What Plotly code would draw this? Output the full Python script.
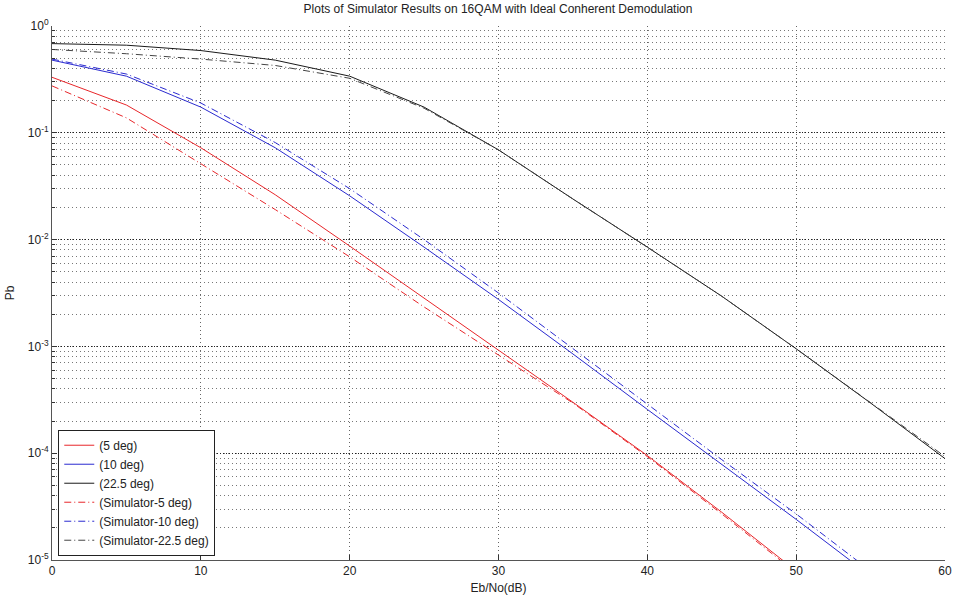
import plotly.graph_objects as go

# Eb/No grid (dB)
ebno = [0, 5, 10, 15, 20, 25, 30, 35, 40, 45, 50, 55, 60]

# Theoretical bit error probability
pb_5deg = [0.331, 0.182, 0.0724, 0.0263, 0.0087, 0.00282, 9.3e-4, 3.0e-4, 9.5e-5, 2.8e-5, 7.9e-6]
pb_10deg = [0.479, 0.339, 0.174, 0.0724, 0.0257, 0.0085, 0.00275, 8.5e-4, 2.57e-4, 7.9e-5, 2.4e-5, 7.1e-6]
pb_22_5deg = [0.684, 0.661, 0.589, 0.479, 0.339, 0.174, 0.0692, 0.024, 0.0085, 0.00295, 9.5e-4, 2.95e-4, 8.9e-5]

# Simulator results
sim_5deg = [0.275, 0.138, 0.0513, 0.0191, 0.0069, 0.00234, 8.3e-4, 2.95e-4, 9.3e-5, 2.7e-5, 7.6e-6]
sim_10deg = [0.49, 0.355, 0.19, 0.081, 0.030, 0.0100, 0.00316, 9.5e-4, 2.9e-4, 8.7e-5, 2.7e-5, 7.9e-6]
sim_22_5deg = [0.603, 0.55, 0.49, 0.427, 0.324, 0.17, 0.0692, 0.024, 0.0085, 0.00295, 9.5e-4, 3.0e-4, 9.3e-5]

names = ["(5 deg)", "(10 deg)", "(22.5 deg)",
         "(Simulator-5 deg)", "(Simulator-10 deg)", "(Simulator-22.5 deg)"]
series = [pb_5deg, pb_10deg, pb_22_5deg, sim_5deg, sim_10deg, sim_22_5deg]
colors = ["#e8262a", "#2a2ad0", "#1a1a1a", "#e8262a", "#2a2ad0", "#444444"]
dashes = ["solid", "solid", "solid",
          "7px,3px,1px,3px", "7px,3px,1px,3px", "7px,3px,1px,3px"]

ytick_vals = [1, 1e-1, 1e-2, 1e-3, 1e-4, 1e-5]
ytick_text = ["10<sup>0</sup>", "10<sup>-1</sup>", "10<sup>-2</sup>",
              "10<sup>-3</sup>", "10<sup>-4</sup>", "10<sup>-5</sup>"]

fig = go.Figure()
for name, vals, col, dash in zip(names, series, colors, dashes):
    fig.add_trace(go.Scatter(
        x=ebno[:len(vals)], y=vals, mode="lines", name=name,
        line=dict(color=col, width=1, dash=dash),
    ))

font_family = "Liberation Sans, Arial, sans-serif"

fig.update_layout(
    width=954, height=602,
    margin=dict(l=52, r=9, t=26, b=42),
    paper_bgcolor="white", plot_bgcolor="white",
    font=dict(family=font_family, size=12, color="#222"),
    title=dict(
        text="Plots of Simulator Results on 16QAM with Ideal Conherent Demodulation",
        x=0.522, xanchor="center", y=0.985, yanchor="middle", yref="container",
        font=dict(size=12, color="#222"),
    ),
    showlegend=True,
    legend=dict(
        x=0.007, xanchor="left", y=0.008, yanchor="bottom",
        bgcolor="white", bordercolor="#222", borderwidth=1,
        font=dict(size=12, color="#222"),
        tracegroupgap=0,
    ),
)

fig.update_xaxes(
    range=[0, 60], dtick=10, tick0=0, automargin=False,
    showline=True, linecolor="#555", linewidth=1,
    ticks="inside", ticklen=5, tickcolor="#333",
    showgrid=True, gridcolor="#666", griddash="1px,3px", gridwidth=1,
    zeroline=False,
    title=dict(text="Eb/No(dB)", standoff=6, font=dict(size=12)),
)

fig.update_yaxes(
    type="log", range=[-5, 0], automargin=False,
    tickvals=ytick_vals, ticktext=ytick_text,
    showline=True, linecolor="#555", linewidth=1,
    ticks="inside", ticklen=5, tickcolor="#333",
    showgrid=True, gridcolor="#222", griddash="1px,2px", gridwidth=1,
    minor=dict(dtick="D1", ticks="inside", ticklen=3, tickcolor="#333",
               showgrid=True, gridcolor="#777", griddash="1px,3px", gridwidth=1),
    zeroline=False,
    title=dict(text="Pb", standoff=10, font=dict(size=12)),
)

fig.write_html("out.html")
